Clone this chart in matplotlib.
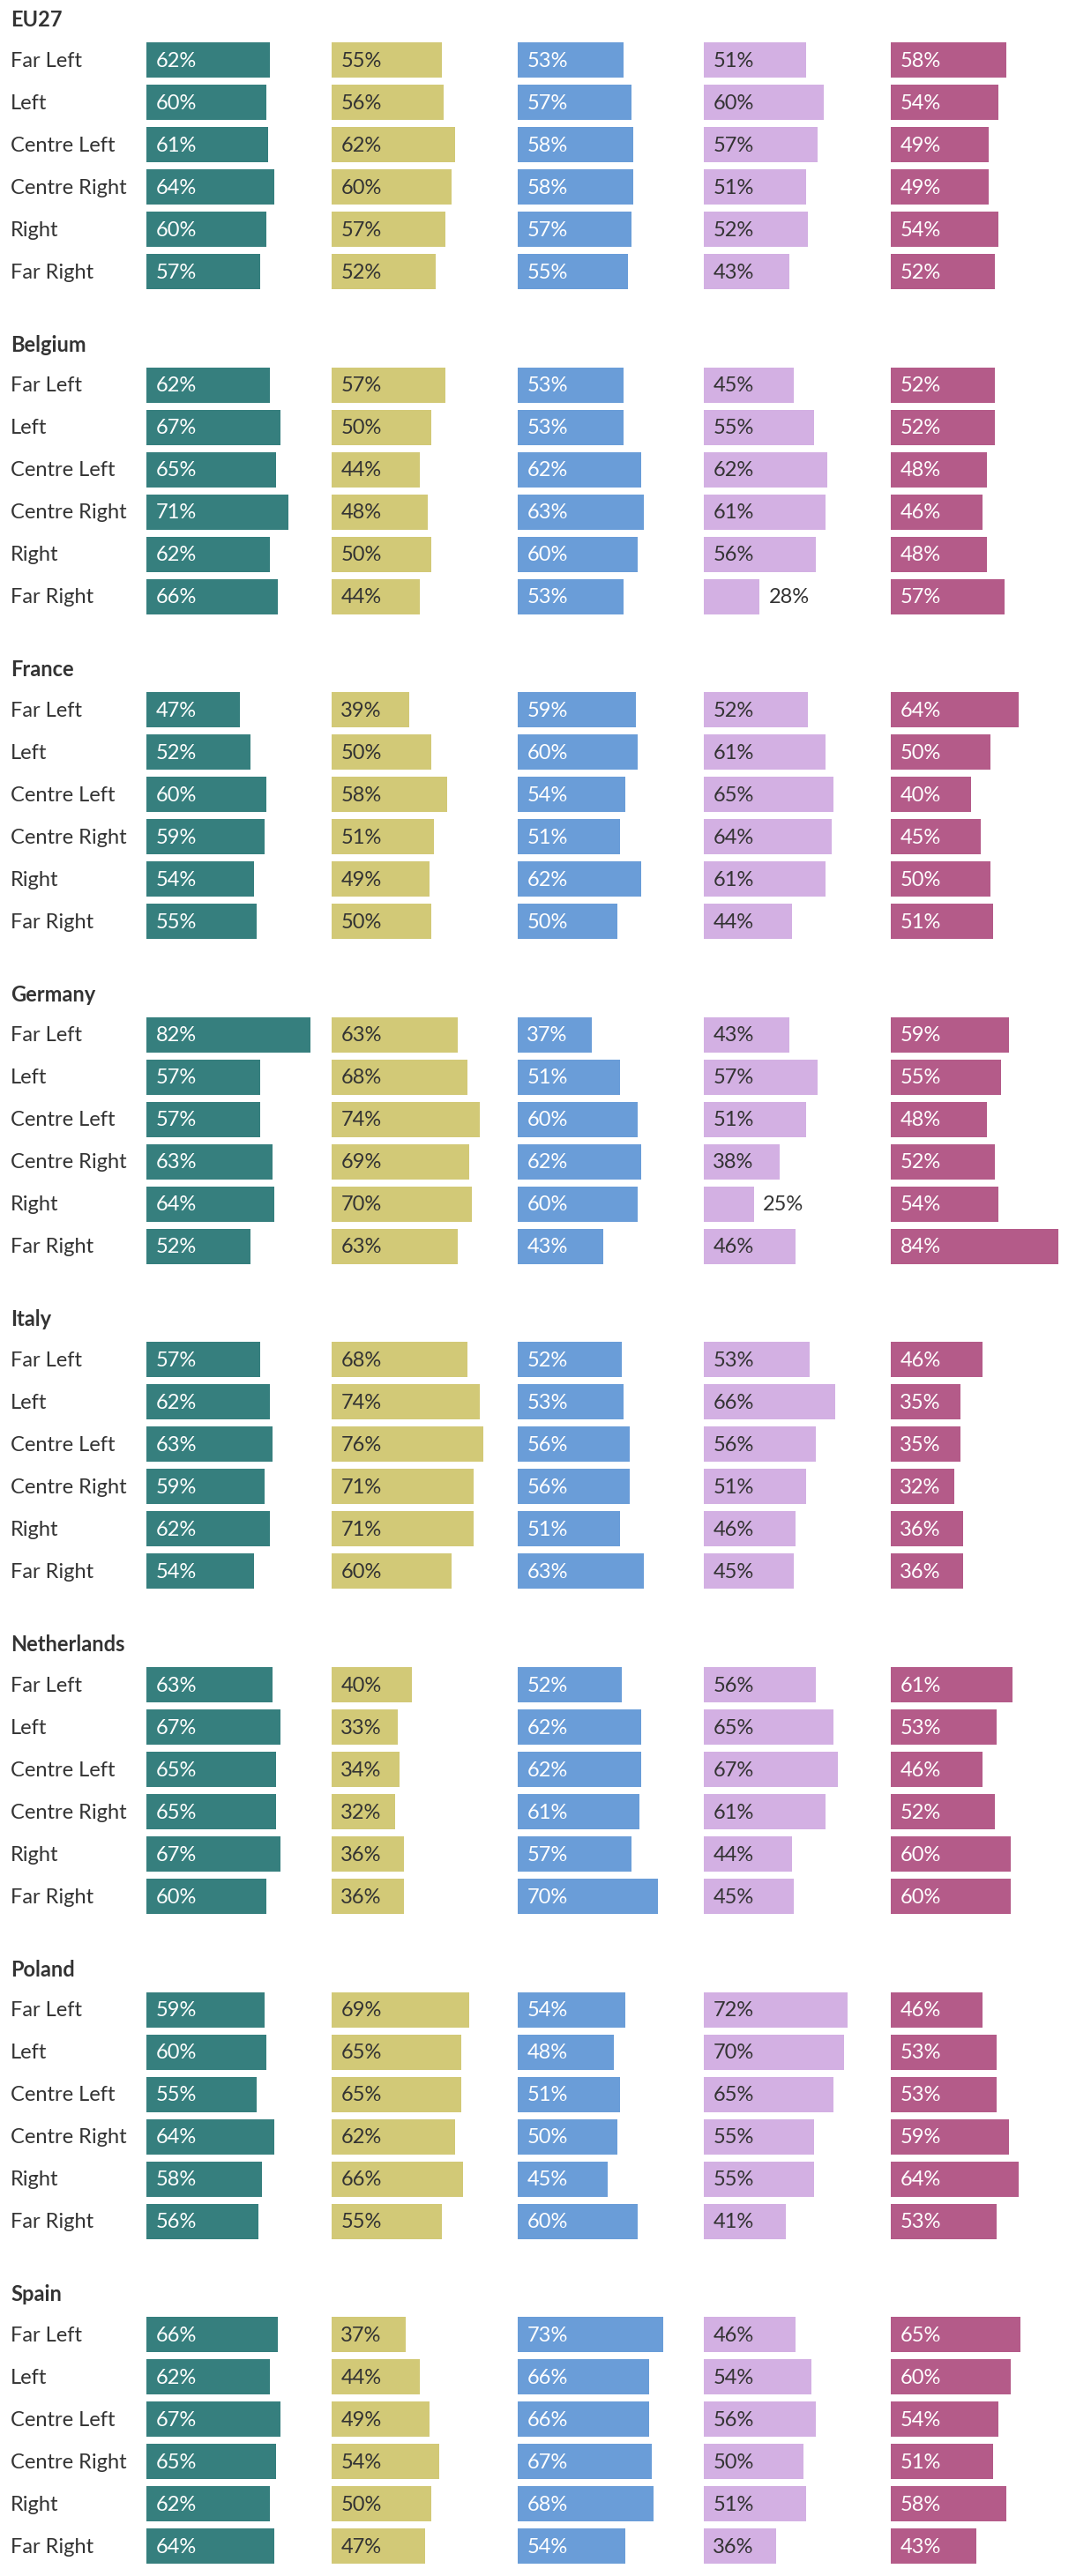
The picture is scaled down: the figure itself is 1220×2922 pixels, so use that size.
import matplotlib
matplotlib.use('Agg')
import matplotlib.pyplot as plt
import matplotlib.transforms as transforms

plt.rcParams['font.family'] = ['Lato', 'DejaVu Sans']

# Data (percent), one list per column per country
countries = ['EU27', 'Belgium', 'France', 'Germany', 'Italy', 'Netherlands', 'Poland', 'Spain']
rows = ['Far Left', 'Left', 'Centre Left', 'Centre Right', 'Right', 'Far Right']

eu27 = [[62, 60, 61, 64, 60, 57],
        [55, 56, 62, 60, 57, 52],
        [53, 57, 58, 58, 57, 55],
        [51, 60, 57, 51, 52, 43],
        [58, 54, 49, 49, 54, 52]]
belgium = [[62, 67, 65, 71, 62, 66],
           [57, 50, 44, 48, 50, 44],
           [53, 53, 62, 63, 60, 53],
           [45, 55, 62, 61, 56, 28],
           [52, 52, 48, 46, 48, 57]]
france = [[47, 52, 60, 59, 54, 55],
          [39, 50, 58, 51, 49, 50],
          [59, 60, 54, 51, 62, 50],
          [52, 61, 65, 64, 61, 44],
          [64, 50, 40, 45, 50, 51]]
germany = [[82, 57, 57, 63, 64, 52],
           [63, 68, 74, 69, 70, 63],
           [37, 51, 60, 62, 60, 43],
           [43, 57, 51, 38, 25, 46],
           [59, 55, 48, 52, 54, 84]]
italy = [[57, 62, 63, 59, 62, 54],
         [68, 74, 76, 71, 71, 60],
         [52, 53, 56, 56, 51, 63],
         [53, 66, 56, 51, 46, 45],
         [46, 35, 35, 32, 36, 36]]
netherlands = [[63, 67, 65, 65, 67, 60],
               [40, 33, 34, 32, 36, 36],
               [52, 62, 62, 61, 57, 70],
               [56, 65, 67, 61, 44, 45],
               [61, 53, 46, 52, 60, 60]]
poland = [[59, 60, 55, 64, 58, 56],
          [69, 65, 65, 62, 66, 55],
          [54, 48, 51, 50, 45, 60],
          [72, 70, 65, 55, 55, 41],
          [46, 53, 53, 59, 64, 53]]
spain = [[66, 62, 67, 65, 62, 64],
         [37, 44, 49, 54, 50, 47],
         [73, 66, 66, 67, 68, 54],
         [46, 54, 56, 50, 51, 36],
         [65, 60, 54, 51, 58, 43]]
all_data = [eu27, belgium, france, germany, italy, netherlands, poland, spain]

bar_colors = ['#367f7e', '#d2c977', '#6a9dd8', '#d3b0e3', '#b45b89']
label_colors = ['white', '#333333', 'white', '#333333', 'white']
dark = '#333333'

# Layout in pixels
W, H = 1220, 2922
col_left = [166, 376, 587, 798, 1010]
col_w = 206
px_per_pct = 2.265
block_pitch = 368.6
first_top = 44        # top of first axes (bar top minus half gap)
row_pitch = 48

fig = plt.figure(figsize=(W / 100, H / 100), dpi=100)

for b, country in enumerate(countries):
    top = first_top + b * block_pitch
    ax_h = 6 * row_pitch
    bottom = H - top - ax_h

    # country title
    fig.text(12 / W, 1 - (top + 4 - 25.5) / H, country, fontsize=17,
             fontweight='bold', color=dark, va='center', ha='left')

    for c in range(5):
        ax = fig.add_axes([col_left[c] / W, bottom / H, col_w / W, ax_h / H])
        vals = all_data[b][c]
        ax.barh(range(len(rows)), vals, height=40 / 48, color=bar_colors[c], linewidth=0)
        ax.set_xlim(0, col_w / px_per_pct)
        ax.set_ylim(len(rows) - 0.5, -0.5)
        ax.axis('off')

        for i, v in enumerate(vals):
            if v < 30:
                # small bar: label sits outside
                ax.annotate(f'{v}%', xy=(v, i), xytext=(7.3, -0.8), textcoords='offset points',
                            va='center', ha='left', fontsize=17, color=dark)
            else:
                ax.annotate(f'{v}%', xy=(0, i), xytext=(7.5, -0.8), textcoords='offset points',
                            va='center', ha='left', fontsize=17, color=label_colors[c])

        if c == 0:
            trans = transforms.blended_transform_factory(fig.transFigure, ax.transData)
            for i, r in enumerate(rows):
                ax.annotate(r, xy=(12 / W, i), xycoords=trans, xytext=(0, -0.8),
                            textcoords='offset points', va='center', ha='left',
                            fontsize=17, color=dark)

fig.savefig('out.png', dpi=100)
